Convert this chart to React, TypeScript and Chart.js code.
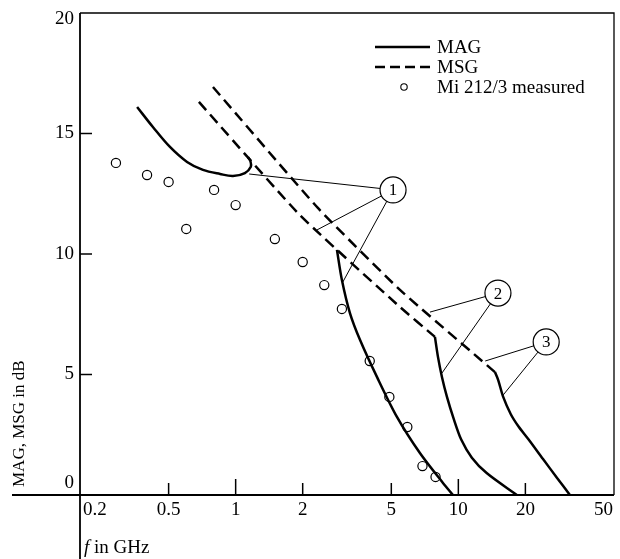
import React, { useEffect, useRef } from 'react';
import { Chart, registerables } from 'chart.js';
Chart.register(...registerables);

// ---- data (frequency in GHz, gain in dB) ----
const xTicks = [0.2, 0.5, 1, 2, 5, 10, 20, 50];
const xTickLabels = ['0.2', '0.5', '1', '2', '5', '10', '20', '50'];
const yTicks = [0, 5, 10, 15, 20];
const yTickLabels = ['0', '5', '10', '15', '20'];

const mag1Upper: [number, number][] = [
  [0.361, 16.1], [0.425, 15.27], [0.507, 14.44], [0.605, 13.82], [0.713, 13.49],
  [0.851, 13.32], [0.973, 13.24], [1.1, 13.36], [1.17, 13.62], [1.165, 13.85], [1.136, 14.02],
];
const mag1Lower: [number, number][] = [
  [2.85, 10.17], [3.0, 8.92], [3.26, 7.55], [3.62, 6.43], [4.31, 4.9],
  [5.3, 3.24], [6.72, 1.74], [8.53, 0.5], [9.46, 0],
];
const mag2: [number, number][] = [
  [7.85, 6.56], [8.1, 5.73], [8.44, 4.9], [8.89, 4.07], [9.5, 3.2],
  [10.3, 2.3], [11.5, 1.55], [13.4, 0.91], [18.3, 0],
];
const mag3: [number, number][] = [
  [14.6, 5.1], [15.1, 4.77], [15.9, 4.07], [17.2, 3.35], [18.6, 2.85], [20.6, 2.32],
  [24.0, 1.49], [27.7, 0.72], [31.7, 0],
];
const msgA: [number, number][] = [
  [0.684, 16.31], [1.94, 11.62], [5.47, 7.8], [7.85, 6.56],
];
const msgB: [number, number][] = [
  [0.791, 16.93], [2.34, 11.91], [5.47, 8.51], [14.6, 5.1],
];
const measuredF = [0.29, 0.4, 0.5, 0.6, 0.8, 1.0, 1.5, 2.0, 2.5, 3.0, 4.0, 4.9, 5.9, 6.9, 7.9];
const measuredDb = [13.78, 13.28, 12.99, 11.04, 12.66, 12.03, 10.62, 9.67, 8.71, 7.72, 5.56, 4.07, 2.82, 1.2, 0.75];

// callout labels: circle centre and the points its leader lines reach
const callouts: { label: string; at: [number, number]; to: [number, number][] }[] = [
  { label: '1', at: [5.09, 12.66], to: [[1.15, 13.32], [2.32, 11.0], [3.03, 8.84]] },
  { label: '2', at: [15.06, 8.38], to: [[7.46, 7.59], [8.44, 5.06]] },
  { label: '3', at: [24.8, 6.35], to: [[13.2, 5.56], [15.9, 4.15]] },
];

const SERIF = '"Liberation Serif", "DejaVu Serif", serif';
const toXY = (arr: [number, number][]) => arr.map(([x, y]) => ({ x, y }));

const lineDs = (data: [number, number][], dashed = false, tension = 0.3) => ({
  data: toXY(data),
  showLine: true,
  borderColor: '#000',
  borderWidth: 2.5,
  borderDash: dashed ? [11, 6] : [],
  pointRadius: 0,
  fill: false,
  tension,
});

const decorPlugin = {
  id: 'decor',
  afterDraw(chart: any) {
    const ctx: CanvasRenderingContext2D = chart.ctx;
    const xs = chart.scales.x;
    const ys = chart.scales.y;
    const { left, right, top, bottom } = chart.chartArea;
    ctx.save();
    ctx.strokeStyle = '#000';
    ctx.fillStyle = '#000';
    ctx.setLineDash([]);

    // box top & right
    ctx.lineWidth = 1.3;
    ctx.beginPath();
    ctx.moveTo(left, top);
    ctx.lineTo(right, top);
    ctx.lineTo(right, bottom);
    ctx.stroke();

    // axes
    ctx.lineWidth = 1.8;
    ctx.beginPath();
    ctx.moveTo(12, bottom);
    ctx.lineTo(right, bottom);
    ctx.moveTo(left, top);
    ctx.lineTo(left, chart.height);
    ctx.stroke();

    // x ticks (inward)
    ctx.lineWidth = 1.5;
    xTicks.forEach((v) => {
      const px = xs.getPixelForValue(v);
      if (v === 0.2 || v === 50) return;
      const decade = Math.abs(Math.log10(v) - Math.round(Math.log10(v))) < 1e-6;
      ctx.beginPath();
      ctx.moveTo(px, bottom);
      ctx.lineTo(px, bottom - (decade ? 16 : 12));
      ctx.stroke();
    });
    // y ticks (inward)
    yTicks.forEach((v) => {
      if (v === 0 || v === 20) return;
      const py = ys.getPixelForValue(v);
      ctx.beginPath();
      ctx.moveTo(left, py);
      ctx.lineTo(left + 12, py);
      ctx.stroke();
    });

    ctx.font = `19px ${SERIF}`;
    ctx.textBaseline = 'middle';
    xTicks.forEach((v, i) => {
      const px = xs.getPixelForValue(v);
      if (i === 0) { ctx.textAlign = 'left'; ctx.fillText(xTickLabels[i], px + 3, bottom + 15); }
      else if (i === xTicks.length - 1) { ctx.textAlign = 'right'; ctx.fillText(xTickLabels[i], px - 1, bottom + 15); }
      else { ctx.textAlign = 'center'; ctx.fillText(xTickLabels[i], px, bottom + 15); }
    });
    ctx.textAlign = 'right';
    yTicks.forEach((v, i) => {
      let py = ys.getPixelForValue(v);
      if (i === 0) py -= 12;
      if (i === yTicks.length - 1) py += 6;
      ctx.fillText(yTickLabels[i], left - 6, py);
    });

    // y title
    ctx.save();
    ctx.translate(20, 487);
    ctx.rotate(-Math.PI / 2);
    ctx.textAlign = 'left';
    ctx.font = `17px ${SERIF}`;
    ctx.fillText('MAG, MSG in dB', 0, 0);
    ctx.restore();

    // x title
    ctx.textAlign = 'left';
    ctx.textBaseline = 'alphabetic';
    ctx.font = `italic 19px ${SERIF}`;
    ctx.fillText('f', left + 4, 553);
    const fw = ctx.measureText('f').width;
    ctx.font = `19px ${SERIF}`;
    ctx.fillText(' in GHz', left + 4 + fw, 553);

    // legend
    ctx.textBaseline = 'middle';
    ctx.lineWidth = 2.5;
    ctx.beginPath();
    ctx.moveTo(375, 47); ctx.lineTo(430, 47);
    ctx.stroke();
    ctx.setLineDash([10, 5]);
    ctx.beginPath();
    ctx.moveTo(375, 67); ctx.lineTo(430, 67);
    ctx.stroke();
    ctx.setLineDash([]);
    ctx.lineWidth = 1.1;
    ctx.beginPath();
    ctx.arc(404, 87, 3.2, 0, Math.PI * 2);
    ctx.stroke();
    ctx.fillText('MAG', 437, 48);
    ctx.fillText('MSG', 437, 68);
    ctx.fillText('Mi 212/3 measured', 437, 88);

    // callouts
    const r = 13;
    callouts.forEach((c) => {
      const cx = xs.getPixelForValue(c.at[0]);
      const cy = ys.getPixelForValue(c.at[1]);
      ctx.lineWidth = 1.2;
      ctx.fillStyle = '#fff';
      ctx.beginPath();
      ctx.arc(cx, cy, r, 0, Math.PI * 2);
      ctx.fill();
      ctx.stroke();
      ctx.fillStyle = '#000';
      ctx.lineWidth = 1;
      c.to.forEach(([fx, fy]) => {
        const ex = xs.getPixelForValue(fx);
        const ey = ys.getPixelForValue(fy);
        const d = Math.hypot(ex - cx, ey - cy);
        const sx = cx + ((ex - cx) / d) * r;
        const sy = cy + ((ey - cy) / d) * r;
        ctx.beginPath();
        ctx.moveTo(sx, sy);
        ctx.lineTo(ex, ey);
        ctx.stroke();
      });
      ctx.font = `17px ${SERIF}`;
      ctx.textAlign = 'center';
      ctx.textBaseline = 'middle';
      ctx.fillText(c.label, cx, cy + 1);
    });
    ctx.restore();
  },
};

export default function App() {
  const ref = useRef<HTMLCanvasElement | null>(null);
  useEffect(() => {
    if (!ref.current) return;
    const chart = new Chart(ref.current, {
      type: 'scatter',
      data: {
        datasets: [
          lineDs(mag1Upper, false, 0.35),
          lineDs(mag1Lower, false, 0.3),
          lineDs(mag2, false, 0.3),
          lineDs(mag3, false, 0.3),
          lineDs(msgA, true, 0.15),
          lineDs(msgB, true, 0.15),
          {
            data: measuredF.map((f, i) => ({ x: f, y: measuredDb[i] })),
            showLine: false,
            pointStyle: 'circle',
            pointRadius: 4.6,
            pointBorderWidth: 1.2,
            pointBorderColor: '#000',
            pointBackgroundColor: '#fff',
            borderColor: '#000',
            backgroundColor: '#fff',
          } as any,
        ],
      },
      options: {
        animation: false,
        responsive: false,
        devicePixelRatio: 1,
        layout: { padding: { left: 80, right: 6, top: 13, bottom: 64 } },
        plugins: { legend: { display: false }, tooltip: { enabled: false } },
        events: [],
        scales: {
          x: { type: 'logarithmic', min: 0.2, max: 50, display: false },
          y: { type: 'linear', min: 0, max: 20, display: false },
        },
      },
      plugins: [decorPlugin],
    });
    return () => chart.destroy();
  }, []);
  return (
    <div style={{ position: 'absolute', left: 0, top: 0, width: 620, height: 559, background: '#fff' }}>
      <canvas ref={ref} width={620} height={559} />
    </div>
  );
}
